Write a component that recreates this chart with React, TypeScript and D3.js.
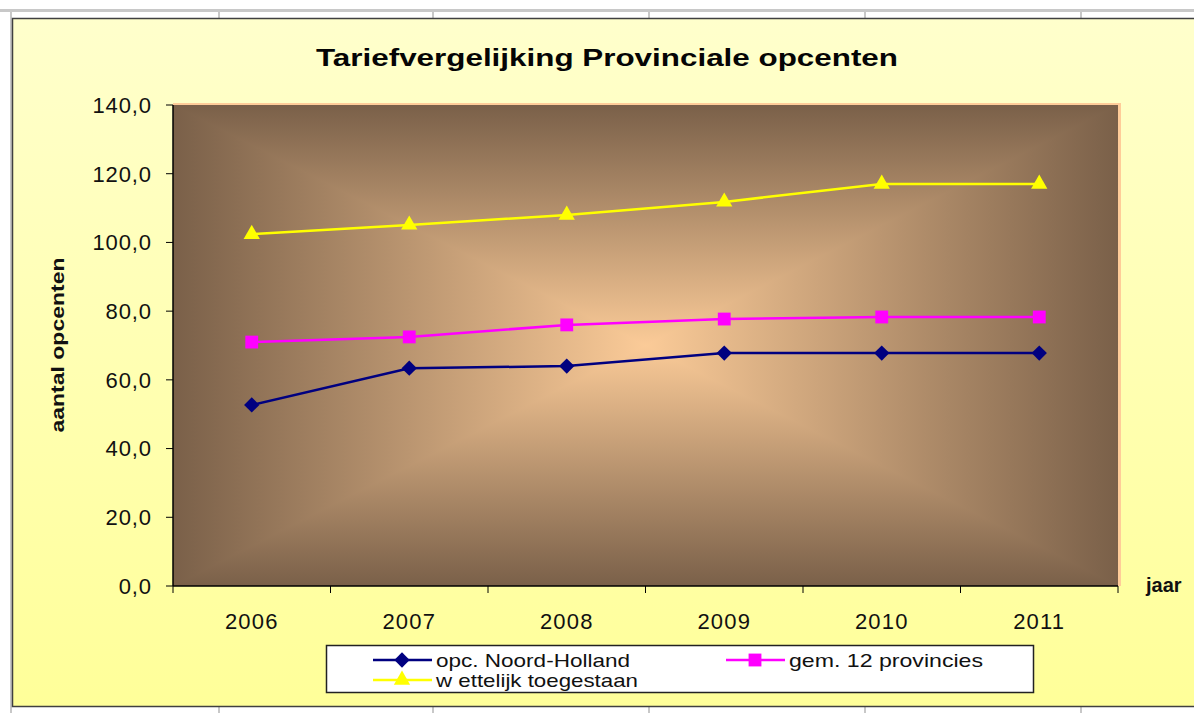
import React from "react";
import * as d3 from "d3";

const width = 1194;
const height = 713;
const margin = { top: 105, right: 76, bottom: 127, left: 173 };

const years = ["2006", "2007", "2008", "2009", "2010", "2011"];
const noordHolland = [52.7, 63.4, 64.0, 67.8, 67.8, 67.8];
const gem12 = [71.0, 72.5, 76.0, 77.7, 78.3, 78.3];
const wettelijk = [102.4, 105.1, 108.0, 111.8, 117.0, 117.0];
const yTicks = [0, 20, 40, 60, 80, 100, 120, 140];

const series = [
  { name: "opc. Noord-Holland", values: noordHolland, color: "#000080", marker: "diamond" },
  { name: "gem. 12 provincies", values: gem12, color: "#ff00ff", marker: "square" },
  { name: "w ettelijk toegestaan", values: wettelijk, color: "#ffff00", marker: "triangle" },
];

const x = d3
  .scaleBand()
  .domain(years)
  .range([margin.left, width - margin.right]);

const y = d3
  .scaleLinear()
  .domain([0, 140])
  .range([height - margin.bottom, margin.top]);

const markerPath = {
  diamond: d3.symbol(d3.symbolDiamond2, 150)(),
  square: d3.symbol(d3.symbolSquare2, 210)(),
  triangle: d3.symbol(d3.symbolTriangle2, 190)(),
};

const line = d3
  .line<number>()
  .x((d, i) => x(years[i])! + x.bandwidth() / 2)
  .y((d) => y(d));

const fmt = (d: number) => d.toFixed(1).replace(".", ",");

const font = "'Liberation Sans', Arial, sans-serif";

export default function App() {
  const x0 = margin.left;
  const x1 = width - margin.right;
  const y0 = margin.top;
  const y1 = height - margin.bottom;
  const cx = (x0 + x1) / 2;
  const cy = (y0 + y1) / 2;
  const edge = "#7a6049";
  const center = "#fbcb98";
  const bounds = [x0, ...years.map((d) => x(d)! + x.bandwidth())];

  return (
    <svg
      width={width}
      height={height}
      style={{ position: "absolute", left: 0, top: 0 }}
      fontFamily={font}
    >
      <defs>
        <linearGradient id="bg" x1="0" y1="0" x2="0" y2="1">
          <stop offset="0" stopColor="#ffffcc" />
          <stop offset="1" stopColor="#ffff99" />
        </linearGradient>
        <linearGradient id="gVert" gradientUnits="userSpaceOnUse" x1={0} y1={y0} x2={0} y2={y1}>
          <stop offset="0" stopColor={edge} />
          <stop offset="0.5" stopColor={center} />
          <stop offset="1" stopColor={edge} />
        </linearGradient>
        <linearGradient id="gHoriz" gradientUnits="userSpaceOnUse" x1={x0} y1={0} x2={x1} y2={0}>
          <stop offset="0" stopColor={edge} />
          <stop offset="0.5" stopColor={center} />
          <stop offset="1" stopColor={edge} />
        </linearGradient>
      </defs>

      <rect x={0} y={0} width={width} height={height} fill="#ffffff" />
      <rect x={0} y={9} width={width} height={3} fill="#c8c8c8" />
      <rect x={10} y={9} width={2} height={height} fill="#c8c8c8" />
      {[218, 432, 648, 864, 1080].map((gx) => (
        <g key={gx}>
          <rect x={gx} y={12} width={2} height={7} fill="#c8c8c8" />
          <rect x={gx} y={707} width={2} height={6} fill="#c8c8c8" />
        </g>
      ))}

      <rect x={12.5} y={18.5} width={width} height={688} fill="url(#bg)" stroke="#404040" strokeWidth={1.5} />

      <text
        x={607}
        y={66}
        textAnchor="middle"
        fontSize={24}
        fontWeight="bold"
        textLength={582}
        lengthAdjust="spacingAndGlyphs"
        fill="#050505"
      >
        Tariefvergelijking Provinciale opcenten
      </text>

      {/* plot area */}
      <rect x={x0} y={y0 - 2} width={x1 - x0 + 3} height={y1 - y0 + 2} fill="#ffcc99" />
      <rect x={x0} y={y0} width={x1 - x0} height={y1 - y0} fill="url(#gVert)" />
      <polygon points={`${x0},${y0} ${x0},${y1} ${cx},${cy}`} fill="url(#gHoriz)" />
      <polygon points={`${x1},${y0} ${x1},${y1} ${cx},${cy}`} fill="url(#gHoriz)" />

      {/* axes */}
      <line x1={x0} x2={x0} y1={y0} y2={y1} stroke="#000" strokeWidth={1.5} />
      <line x1={x0} x2={x1} y1={y1} y2={y1} stroke="#000" strokeWidth={1.5} />
      {yTicks.map((t) => (
        <g key={t}>
          <line x1={x0 - 7} x2={x0} y1={y(t)} y2={y(t)} stroke="#000" />
          <text
            x={152}
            y={y(t)}
            dy="0.36em"
            textAnchor="end"
            fontSize={22}
            letterSpacing={0.9}
            fill="#111"
          >
            {fmt(t)}
          </text>
        </g>
      ))}
      {bounds.map((b, i) => (
        <line key={i} x1={b} x2={b} y1={y1} y2={y1 + 7} stroke="#000" />
      ))}
      {years.map((yr) => (
        <text
          key={yr}
          x={x(yr)! + x.bandwidth() / 2}
          y={629}
          textAnchor="middle"
          fontSize={22}
          letterSpacing={1.2}
          fill="#111"
        >
          {yr}
        </text>
      ))}
      <text x={1146} y={592} fontSize={20} fontWeight="bold" fill="#111">
        jaar
      </text>
      <text
        transform={`translate(64, 345) rotate(-90)`}
        textAnchor="middle"
        fontSize={19}
        fontWeight="bold"
        textLength={175}
        lengthAdjust="spacingAndGlyphs"
        fill="#111"
      >
        aantal opcenten
      </text>

      {/* series */}
      {series.map((s) => (
        <g key={s.name}>
          <path d={line(s.values)!} fill="none" stroke={s.color} strokeWidth={2.5} />
          {s.values.map((v, i) => (
            <path
              key={i}
              d={markerPath[s.marker]}
              transform={`translate(${x(years[i])! + x.bandwidth() / 2},${y(v)})`}
              fill={s.color}
            />
          ))}
        </g>
      ))}

      {/* legend */}
      <rect x={326.5} y={645.5} width={707} height={47} fill="#fff" stroke="#222" strokeWidth={1.5} />
      {series.map((s, i) => {
        const lx = i === 1 ? 726 : 373;
        const ly = i === 2 ? 680 : 660;
        return (
          <g key={s.name}>
            <line x1={lx} x2={lx + 59} y1={ly} y2={ly} stroke={s.color} strokeWidth={2.5} />
            <path d={markerPath[s.marker]} transform={`translate(${lx + 29},${ly})`} fill={s.color} />
            <text
              x={lx + 63}
              y={ly + 7}
              fontSize={19}
              textLength={i === 2 ? 202 : 194}
              lengthAdjust="spacingAndGlyphs"
              fill="#111"
            >
              {s.name}
            </text>
          </g>
        );
      })}
    </svg>
  );
}
